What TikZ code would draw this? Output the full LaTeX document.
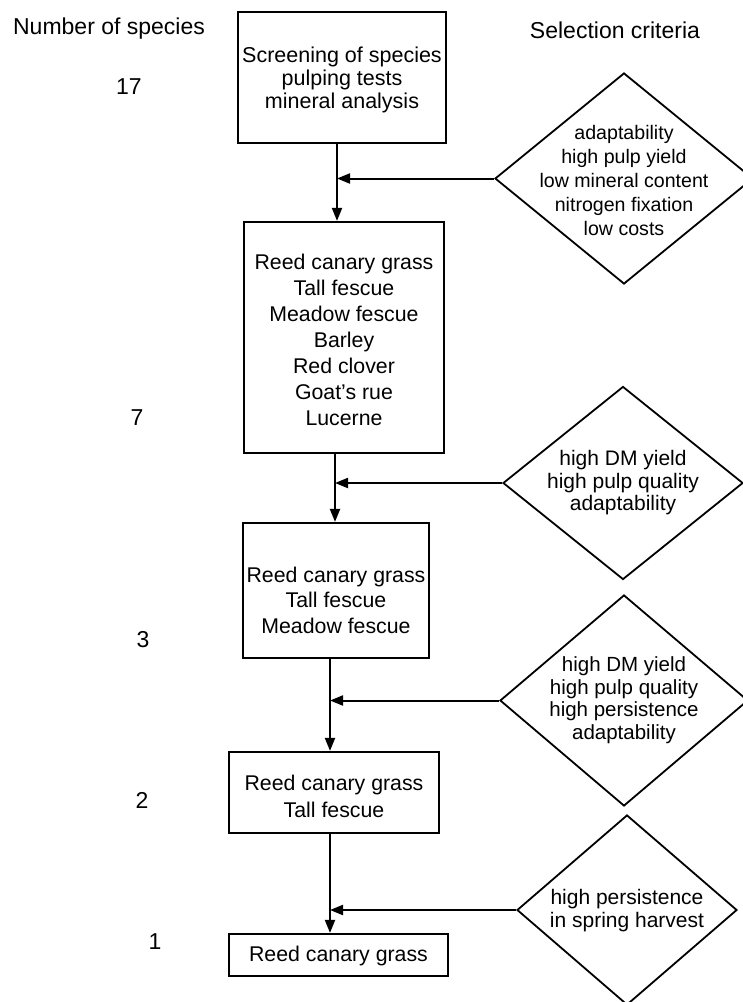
\documentclass[tikz,border=0pt]{standalone}
\usepackage{fontspec}
\setmainfont{Liberation Sans}
\usetikzlibrary{shapes.geometric,arrows.meta}
\begin{document}
\begin{tikzpicture}[x=1pt,y=-1pt,
  box/.style={draw,line width=2.2pt,inner sep=0,align=center,font=\fontsize{21.3}{26}\selectfont},
  crit/.style={draw,diamond,line width=1.8pt,inner sep=0},
  ctext/.style={align=center,inner sep=0},
  flow/.style={line width=2pt,-{Triangle[length=13pt,width=10pt]}},
  head/.style={inner sep=0,font=\fontsize{23}{27}\selectfont}]
\useasboundingbox (0,0) rectangle (743,1002);
\clip (0,0) rectangle (743,1002);
% headers and counts
\node[head] (hn) at (109,29) {Number of species};
\node[head] (hs) at (615,30) {Selection criteria};
\node[head] (n17) at (129,87) {17};
\node[head] (n7) at (137,418) {7};
\node[head] (n3) at (143,640) {3};
\node[head] (n2) at (142,800) {2};
\node[head] (n1) at (155,942) {1};
% boxes
\node[box,minimum width=208pt,minimum height=131pt] (b1) at (342,77.5) {};
\node[ctext,font=\fontsize{21.5}{23}\selectfont] (t1) at (342,80) {Screening of species\\pulping tests\\mineral analysis};
\node[box,minimum width=200pt,minimum height=231pt] (b2) at (344,337.5) {};
\node[ctext,font=\fontsize{21.3}{26}\selectfont] (t2) at (344,340) {Reed canary grass\\Tall fescue\\Meadow fescue\\Barley\\Red clover\\Goat's rue\\Lucerne};
\node[box,minimum width=186pt,minimum height=135pt] (b3) at (336,590.5) {};
\node[ctext,font=\fontsize{21.3}{25.5}\selectfont] (t3) at (336,600) {Reed canary grass\\Tall fescue\\Meadow fescue};
\node[box,minimum width=210pt,minimum height=81pt] (b4) at (334,792.5) {};
\node[ctext,font=\fontsize{21.3}{27}\selectfont] (t4) at (334,796) {Reed canary grass\\Tall fescue};
\node[box,minimum width=219pt,minimum height=42pt] (b5) at (338.5,955) {};
\node[ctext,font=\fontsize{21.3}{26}\selectfont] (t5) at (338.5,956) {Reed canary grass};
% diamonds
\node[crit,minimum width=258pt,minimum height=211pt] (d1) at (624,178.5) {};
\node[ctext,font=\fontsize{19.6}{24}\selectfont] (c1) at (624,180) {adaptability\\high pulp yield\\low mineral content\\nitrogen fixation\\low costs};
\node[crit,minimum width=240pt,minimum height=193pt] (d2) at (623,483) {};
\node[ctext,font=\fontsize{21}{22.5}\selectfont] (c2) at (623,483) {high DM yield\\high pulp quality\\adaptability};
\node[crit,minimum width=248pt,minimum height=211pt] (d3) at (624,700.5) {};
\node[ctext,font=\fontsize{20.5}{22.5}\selectfont] (c3) at (624,700) {high DM yield\\high pulp quality\\high persistence\\adaptability};
\node[crit,minimum width=220pt,minimum height=190pt] (d4) at (627,910) {};
\node[ctext,font=\fontsize{21}{23}\selectfont] (c4) at (627,911) {high persistence\\in spring harvest};
% connector columns
\coordinate (v1) at (337,0);
\coordinate (v2) at (335,0);
\coordinate (v3) at (330,0);
\coordinate (v4) at (330,0);
\draw[flow] (b1.south -| v1) -- (b2.north -| v1);
\draw[flow] (d1.west) -- (d1.west -| v1);
\draw[flow] (b2.south -| v2) -- (b3.north -| v2);
\draw[flow] (d2.west) -- (d2.west -| v2);
\draw[flow] (b3.south -| v3) -- (b4.north -| v3);
\draw[flow] (d3.west) -- (d3.west -| v3);
\draw[flow] (b4.south -| v4) -- (b5.north -| v4);
\draw[flow] (d4.west) -- (d4.west -| v4);
\end{tikzpicture}
\end{document}
